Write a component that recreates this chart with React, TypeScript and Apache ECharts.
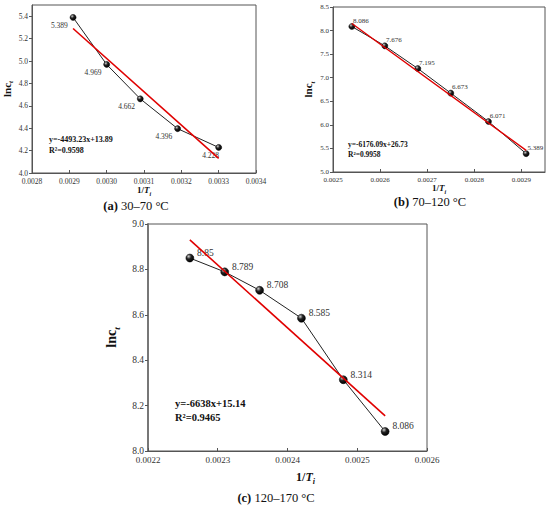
import React, { useEffect, useRef } from "react";
import * as echarts from "echarts";

// ---- data ----
// (a) 30–70 °C
const xA = [0.00291, 0.003, 0.00309, 0.00319, 0.0033];
const yA = [5.389, 4.969, 4.662, 4.396, 4.228];
const fitAX = [0.00291, 0.0033];
const fitAY = [5.29, 4.13];
const eqA = ["y=-4493.23x+13.89", "R²=0.9598"];

// (b) 70–120 °C
const xB = [0.00254, 0.00261, 0.00268, 0.00275, 0.00283, 0.00291];
const yB = [8.086, 7.676, 7.195, 6.673, 6.071, 5.389];
const fitBX = [0.00254, 0.00291];
const fitBY = [8.15, 5.46];
const eqB = ["y=-6176.09x+26.73", "R²=0.9958"];

// (c) 120–170 °C
const xC = [0.00226, 0.00231, 0.00236, 0.00242, 0.00248, 0.00254];
const yC = [8.85, 8.789, 8.708, 8.585, 8.314, 8.086];
const fitCX = [0.00226, 0.00254];
const fitCY = [8.93, 8.155];
const eqC = ["y=-6638x+15.14", "R²=0.9465"];

const captions = ["(a)| 30–70 °C", "(b)| 70–120 °C", "(c)| 120–170 °C"];

const SERIF = '"Liberation Serif", "Times New Roman", Times, serif';

const pairs = (xs: number[], ys: number[]) => xs.map((x, i) => [x, ys[i]]);

const ball = {
  type: "radial",
  x: 0.35,
  y: 0.3,
  r: 0.7,
  colorStops: [
    { offset: 0, color: "#d0d0d0" },
    { offset: 0.45, color: "#222" },
    { offset: 1, color: "#000" },
  ],
};

function xAxisCfg(
  gi: number,
  min: number,
  max: number,
  fs: number,
  nameFs: number,
  nameGap: number,
  showMax: boolean,
  namePadLeft: number
) {
  return {
    type: "value",
    gridIndex: gi,
    min,
    max,
    interval: 0.0001,
    axisLine: { show: true, onZero: false, lineStyle: { color: "#555", width: 1 } },
    axisTick: { show: true, inside: true, length: 3, lineStyle: { color: "#555" } },
    splitLine: { show: false },
    axisLabel: {
      fontSize: fs,
      fontFamily: SERIF,
      color: "#333",
      margin: 4,
      showMaxLabel: showMax,
      formatter: (v: number) => v.toFixed(4),
    },
    name: "{a|1/}{i|T}{s|i}",
    nameLocation: "middle",
    nameGap,
    nameTextStyle: {
      padding: [0, 0, 0, namePadLeft],
      rich: {
        a: { fontFamily: SERIF, fontWeight: "bold", fontSize: nameFs, color: "#111", lineHeight: nameFs + 4 },
        i: {
          fontFamily: SERIF,
          fontWeight: "bold",
          fontStyle: "italic",
          fontSize: nameFs,
          color: "#111",
          lineHeight: nameFs + 4,
        },
        s: {
          fontFamily: SERIF,
          fontWeight: "bold",
          fontStyle: "italic",
          fontSize: Math.round(nameFs * 0.65),
          color: "#111",
          lineHeight: nameFs + 4,
          verticalAlign: "bottom",
        },
      },
    },
  };
}

function yAxisCfg(
  gi: number,
  min: number,
  max: number,
  interval: number,
  fs: number,
  nameFs: number,
  nameGap: number,
  showMax: boolean,
  lineColor: string,
  lineWidth: number
) {
  return {
    type: "value",
    gridIndex: gi,
    min,
    max,
    interval,
    axisLine: { show: true, onZero: false, lineStyle: { color: lineColor, width: lineWidth } },
    axisTick: { show: true, inside: false, length: 3, lineStyle: { color: "#555" } },
    splitLine: { show: false },
    axisLabel: {
      fontSize: fs,
      fontFamily: SERIF,
      color: "#333",
      margin: 4,
      showMaxLabel: showMax,
      formatter: (v: number) => v.toFixed(1),
    },
    name: "{a|lnc}{s|t}",
    nameLocation: "middle",
    nameGap,
    nameRotate: 90,
    nameTextStyle: {
      rich: {
        a: { fontFamily: SERIF, fontWeight: "bold", fontSize: nameFs, color: "#111", lineHeight: nameFs + 5 },
        s: {
          fontFamily: SERIF,
          fontWeight: "bold",
          fontStyle: "italic",
          fontSize: Math.round(nameFs * 0.65),
          color: "#111",
          lineHeight: nameFs + 5,
          verticalAlign: "bottom",
        },
      },
    },
  };
}

function dataSeries(gi: number, xs: number[], ys: number[], size: number, label: any, lastLabel?: any) {
  return {
    type: "line",
    xAxisIndex: gi,
    yAxisIndex: gi,
    data: xs.map((x, i) =>
      lastLabel && i === xs.length - 1 ? { value: [x, ys[i]], label: lastLabel } : { value: [x, ys[i]] }
    ),
    symbol: "circle",
    symbolSize: size,
    itemStyle: { color: ball as any, borderColor: "#000", borderWidth: 0.5 },
    lineStyle: { color: "#222", width: 1 },
    label: {
      show: true,
      color: "#333",
      textBorderWidth: 0,
      textBorderColor: "transparent",
      fontFamily: SERIF,
      formatter: (p: any) => String(ys[p.dataIndex]),
      ...label,
    },
    emphasis: { disabled: true },
    z: 3,
  };
}

function fitSeries(gi: number, xs: number[], ys: number[], w: number) {
  return {
    type: "line",
    xAxisIndex: gi,
    yAxisIndex: gi,
    data: pairs(xs, ys),
    symbol: "none",
    lineStyle: { color: "#e00000", width: w },
    emphasis: { disabled: true },
    z: 4,
  };
}

function eqText(x: number, y: number, lines: string[], fs: number) {
  return {
    type: "text",
    x,
    y,
    style: {
      text: lines.join("\n"),
      fontFamily: SERIF,
      fontWeight: "bold",
      fontSize: fs,
      lineHeight: fs * 1.35,
      fill: "#111",
      align: "left",
      verticalAlign: "top",
    },
    z: 10,
  };
}

function captionText(x: number, y: number, cap: string) {
  const [b, rest] = cap.split("|");
  return {
    type: "text",
    x,
    y,
    style: {
      text: `{b|${b}}{r|${rest}}`,
      align: "center",
      verticalAlign: "middle",
      rich: {
        b: { fontFamily: SERIF, fontWeight: "bold", fontSize: 12.5, fill: "#111" },
        r: { fontFamily: SERIF, fontSize: 12.5, fill: "#111" },
      },
    },
    z: 10,
  };
}

export default function App() {
  const ref = useRef<HTMLDivElement>(null);
  useEffect(() => {
    if (!ref.current) return;
    const chart = echarts.init(ref.current, undefined, { renderer: "svg" });
    const gridBase = {
      show: true,
      borderColor: "#555",
      borderWidth: 1,
      backgroundColor: "transparent",
      containLabel: false,
      outerBoundsMode: "none",
    };
    chart.setOption({
      animation: false,
      backgroundColor: "#ffffff",
      grid: [
        { ...gridBase, left: 32, top: 5, width: 224, height: 168 },
        { ...gridBase, left: 333, top: 7, width: 212, height: 165 },
        { ...gridBase, left: 148, top: 224, width: 279, height: 227 },
      ],
      xAxis: [
        xAxisCfg(0, 0.0028, 0.0034, 7.5, 9, 7, true, 0),
        xAxisCfg(1, 0.0025, 0.00295, 7, 9, 8, false, 0),
        xAxisCfg(2, 0.0022, 0.0026, 9, 12, 18, true, 36),
      ],
      yAxis: [
        yAxisCfg(0, 4.0, 5.5, 0.2, 7.5, 11, 15, false, "#555", 1),
        yAxisCfg(1, 5.0, 8.5, 0.5, 7, 11, 16, true, "#555", 1),
        yAxisCfg(2, 8.0, 9.0, 0.2, 9.5, 14, 19, true, "#777", 2),
      ],
      series: [
        dataSeries(
          0,
          xA,
          yA,
          6,
          { position: "left", distance: 2, offset: [0, 8], fontSize: 7.5 },
          { position: "bottom", distance: 1, offset: [-8, 0] }
        ),
        fitSeries(0, fitAX, fitAY, 1.6),
        dataSeries(1, xB, yB, 6, { position: "right", distance: -2, offset: [0, -6], fontSize: 7 }),
        fitSeries(1, fitBX, fitBY, 1.4),
        dataSeries(2, xC, yC, 8, { position: "right", distance: 3, offset: [0, -5], fontSize: 9.5 }),
        fitSeries(2, fitCX, fitCY, 1.6),
      ],
      graphic: [
        eqText(49, 134, eqA, 8),
        eqText(348, 139, eqB, 7.5),
        eqText(175, 396, eqC, 10.5),
        captionText(136, 206, captions[0]),
        captionText(430, 202, captions[1]),
        captionText(276, 498, captions[2]),
      ],
    });
    return () => chart.dispose();
  }, []);
  return (
    <div
      ref={ref}
      style={{ position: "fixed", left: 0, top: 0, width: 550, height: 507, background: "#fff" }}
    />
  );
}
